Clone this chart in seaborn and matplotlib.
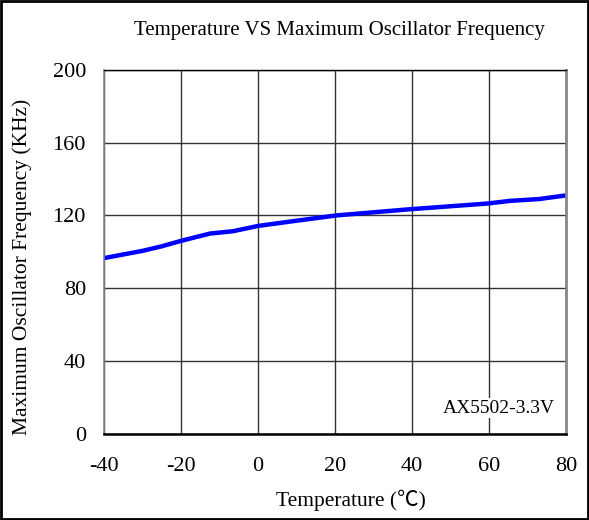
import matplotlib
matplotlib.use("Agg")
import matplotlib.pyplot as plt
import seaborn as sns
import pandas as pd
from matplotlib.patches import Rectangle

# values
temperature = [-40, -35, -30, -25, -20, -12.5, -6.5, 0, 8.3, 20.4, 39.5, 59.4, 65.5, 73, 80]
frequency = [96.5, 98.5, 100.5, 103, 106, 110, 111.3, 114.2, 116.6, 120, 123.4, 126.5, 128, 129, 131]
x_ticks = [-40, -20, 0, 20, 40, 60, 80]
y_ticks = [0, 40, 80, 120, 160, 200]

df = pd.DataFrame({"Temperature": temperature, "Frequency": frequency})

sns.set_style("white")
plt.rcParams['font.family'] = ['Liberation Serif', 'Noto Sans CJK SC', 'DejaVu Sans']
plt.rcParams['axes.unicode_minus'] = False
plt.rcParams['text.color'] = 'black'
plt.rcParams['xtick.color'] = 'black'
plt.rcParams['ytick.color'] = 'black'

fig = plt.figure(figsize=(5.89, 5.2), dpi=100)
ax = fig.add_axes([0.1766, 0.1663, 0.7844, 0.6991])

sns.lineplot(data=df, x="Temperature", y="Frequency", ax=ax, color="#0000ff", linewidth=3.2)

ax.set_xlim(-40, 80)
ax.set_ylim(0, 200)
ax.set_xticks(x_ticks)
ax.set_yticks(y_ticks)
ax.tick_params(length=0, labelsize=16)
ax.tick_params(axis="x", pad=17)
ax.tick_params(axis="y", pad=13)
ax.grid(True, color="#333333", linewidth=1.0)
ax.set_xlabel("")
ax.set_ylabel("")

for side in ["top", "bottom"]:
    ax.spines[side].set_color("black")
ax.spines["top"].set_linewidth(1.0)
ax.spines["bottom"].set_linewidth(1.8)
ax.spines["left"].set_color("#888888")
ax.spines["left"].set_linewidth(1.2)
ax.spines["right"].set_color("#888888")
ax.spines["right"].set_linewidth(2.0)

ax.text(77, 14, "AX5502-3.3V", ha="right", va="center", fontsize=14,
        bbox=dict(facecolor="white", edgecolor="none", pad=1))

fig.text(0.576, 0.942, "Temperature VS Maximum Oscillator Frequency", ha="center", va="center", fontsize=15)
fig.text(0.595, 0.038, "Temperature (℃)", ha="center", va="center", fontsize=15.5)
fig.text(0.037, 0.487, "Maximum Oscillator Frequency (KHz)", ha="center", va="center",
         rotation=90, fontsize=15.5)

fig.patches.append(Rectangle((0.002, 0.002), 0.996, 0.996, transform=fig.transFigure,
                             fill=False, edgecolor="black", linewidth=2))

fig.savefig("out.png", dpi=100)
